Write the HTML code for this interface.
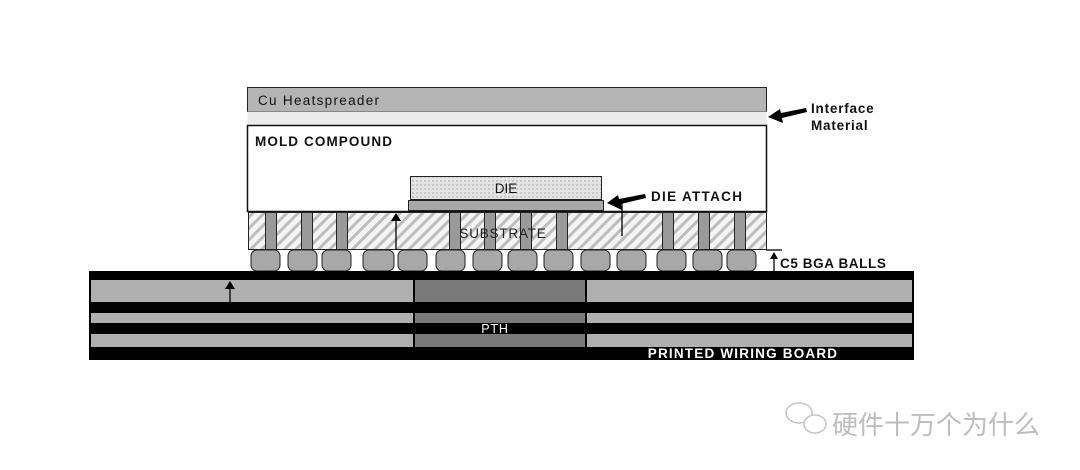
<!DOCTYPE html>
<html><head><meta charset="utf-8"><style>
html,body{margin:0;padding:0;background:#fff;width:1080px;height:470px;overflow:hidden}
svg{display:block}
text{font-family:"Liberation Sans",Arial,sans-serif;font-weight:bold}
</style></head><body>
<svg width="1080" height="470" viewBox="0 0 1080 470" xmlns="http://www.w3.org/2000/svg">
<defs>
<pattern id="hatch" width="8" height="8" patternUnits="userSpaceOnUse" patternTransform="rotate(45)">
<rect width="8" height="8" fill="#f4f4f4"/><rect width="3" height="8" fill="#bdbdbd"/>
</pattern>
<pattern id="dots" width="4" height="4" patternUnits="userSpaceOnUse">
<rect width="4" height="4" fill="#e4e4e4"/><rect width="2" height="2" fill="#c8c8c8"/>
</pattern>
</defs>
<rect x="247.5" y="87.5" width="519" height="24" fill="#b4b4b4" stroke="#222"/>
<rect x="247.5" y="111.5" width="519" height="14" fill="#ebebeb" stroke="none"/>
<rect x="247.5" y="125.5" width="519" height="86" fill="#fff" stroke="#111" stroke-width="1.5"/>
<text x="258" y="105" font-size="13.5" letter-spacing="1.3" style="font-weight:normal" fill="#111">Cu Heatspreader</text>
<text x="255" y="146" font-size="13.5" letter-spacing="1.1" fill="#111">MOLD COMPOUND</text>
<rect x="410.5" y="176.5" width="191" height="23" fill="url(#dots)" stroke="#222"/>
<text x="506" y="193" font-size="13.5" fill="#111" text-anchor="middle" style="font-weight:normal">DIE</text>
<rect x="408.5" y="200.5" width="195" height="10" fill="#a8a8a8" stroke="#222"/>
<rect x="248.5" y="212.5" width="518" height="37" fill="url(#hatch)" stroke="#222"/>
<g fill="#9a9a9a" stroke="#222">
<rect x="265.5" y="212.5" width="11" height="37"/><rect x="301.5" y="212.5" width="11" height="37"/><rect x="336.5" y="212.5" width="11" height="37"/>
<rect x="449.5" y="212.5" width="11" height="37"/><rect x="484.5" y="212.5" width="11" height="37"/><rect x="520.5" y="212.5" width="11" height="37"/><rect x="556.5" y="212.5" width="11" height="37"/>
<rect x="662.5" y="212.5" width="11" height="37"/><rect x="698.5" y="212.5" width="11" height="37"/><rect x="734.5" y="212.5" width="11" height="37"/>
</g>
<text x="503" y="238" font-size="13.5" letter-spacing="0.8" fill="#222" text-anchor="middle" style="font-weight:normal">SUBSTRATE</text>
<g fill="#a8a8a8" stroke="#222">
<rect x="251" y="250" width="29" height="21" rx="6"/><rect x="288" y="250" width="29" height="21" rx="6"/><rect x="322" y="250" width="29" height="21" rx="6"/>
<rect x="363" y="250" width="31" height="21" rx="6"/><rect x="398" y="250" width="29" height="21" rx="6"/><rect x="436" y="250" width="29" height="21" rx="6"/>
<rect x="473" y="250" width="29" height="21" rx="6"/><rect x="508" y="250" width="29" height="21" rx="6"/><rect x="544" y="250" width="29" height="21" rx="6"/>
<rect x="581" y="250" width="29" height="21" rx="6"/><rect x="617" y="250" width="29" height="21" rx="6"/><rect x="657" y="250" width="29" height="21" rx="6"/>
<rect x="693" y="250" width="29" height="21" rx="6"/><rect x="727" y="250" width="29" height="21" rx="6"/>
</g>
<rect x="89" y="271" width="825" height="89" fill="#000"/>
<g fill="#b0b0b0"><rect x="91" y="280" width="322" height="22"/><rect x="91" y="313" width="322" height="10"/><rect x="91" y="334" width="322" height="13"/>
<rect x="587" y="280" width="325" height="22"/><rect x="587" y="313" width="325" height="10"/><rect x="587" y="334" width="325" height="13"/></g>
<g fill="#7a7a7a"><rect x="415" y="280" width="170" height="22"/><rect x="415" y="313" width="170" height="10"/><rect x="415" y="334" width="170" height="13"/></g>
<text x="495" y="333" font-size="12.5" letter-spacing="0.8" fill="#fff" text-anchor="middle" style="font-weight:normal">PTH</text>
<text x="743" y="358" font-size="13.5" letter-spacing="1.2" fill="#fff" text-anchor="middle">PRINTED WIRING BOARD</text>
<g stroke="#000" stroke-width="1.3">
<line x1="230" y1="284" x2="230" y2="302"/>
<line x1="396" y1="216" x2="396" y2="250"/>
<line x1="622" y1="203" x2="622" y2="236"/>
<line x1="774" y1="253" x2="774" y2="271"/>
<line x1="766" y1="250" x2="782" y2="250"/>
</g>
<g fill="#000">
<polygon points="230,281 225,289 235,289"/>
<polygon points="396,213 391,221 401,221"/>
<polygon points="774,252 770,259 778,259"/>
<polygon points="768,117 780,109 781,113 806,108 807,112 782,118 783,123"/>
<polygon points="607,203 618,195 619,199 645,194 646,198 621,204 622,210"/>
</g>
<text x="811" y="113" font-size="13.5" letter-spacing="0.8" fill="#111">Interface</text>
<text x="811" y="130" font-size="13.5" letter-spacing="0.8" fill="#111">Material</text>
<text x="651" y="201" font-size="13.5" letter-spacing="1.3" fill="#111">DIE ATTACH</text>
<text x="780" y="268" font-size="13.5" letter-spacing="0.6" fill="#111">C5 BGA BALLS</text>
<g fill="none" stroke="#c4c4c4" stroke-width="1.5">
<ellipse cx="799" cy="413" rx="13" ry="10"/>
<ellipse cx="815" cy="424" rx="11" ry="9" fill="#fff"/>
</g>
<text x="832" y="434" font-size="26" fill="#bdbdbd" style="font-weight:normal;font-family:'Liberation Sans','Noto Sans CJK SC',sans-serif">硬件十万个为什么</text>
</svg>
</body></html>
